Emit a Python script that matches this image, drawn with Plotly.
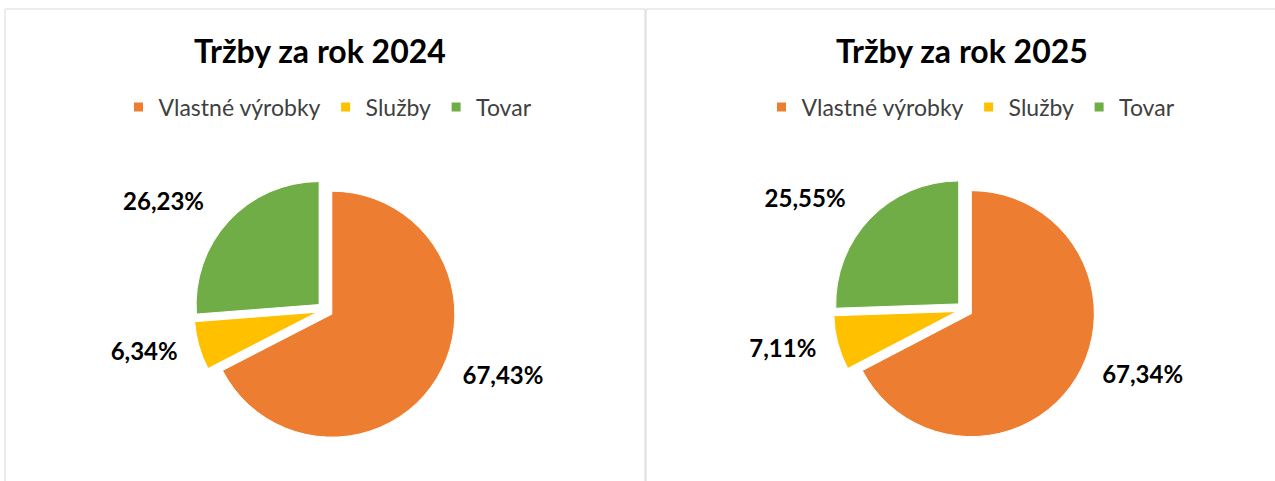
import plotly.graph_objects as go

categories = ["Vlastné výrobky", "Služby", "Tovar"]
values_2024 = [67.43, 6.34, 26.23]
values_2025 = [67.34, 7.11, 25.55]
titles = ["Tržby za rok 2024", "Tržby za rok 2025"]
colors = ["#ED7D31", "#FFC000", "#70AD47"]

W, H = 1275, 481
FONT = "Lato"


def px_x(v):
    return v / W


def px_y(v):
    return 1 - v / H


pull = 0.065
fig = go.Figure()

pies = [
    (values_2024, "legend", (325, 310)),
    (values_2025, "legend2", (964.5, 309.5)),
]
half = 131        # domain half-size of the visible pie
label_half = 148  # domain half-size of the (invisible) label ring
label_dy = -9     # label ring sits slightly higher than the pie

for vals, leg, (cx, cy) in pies:
    # invisible ring that only carries the outside percentage labels
    ly = cy + label_dy
    fig.add_trace(go.Pie(
        labels=categories,
        values=vals,
        sort=False,
        direction="clockwise",
        rotation=-3,
        marker=dict(colors=["rgba(0,0,0,0)"] * 3, line=dict(width=0)),
        textposition="outside",
        texttemplate="%{percent:.2%}",
        textfont=dict(family=FONT, size=24, color="#000000", weight="bold"),
        hoverinfo="skip",
        domain=dict(x=[px_x(cx - label_half), px_x(cx + label_half)],
                    y=[px_y(ly + label_half), px_y(ly - label_half)]),
        showlegend=False,
    ))
    fig.add_trace(go.Pie(
        labels=categories,
        values=vals,
        sort=False,
        direction="clockwise",
        rotation=0,
        pull=[pull] * 3,
        marker=dict(colors=colors, line=dict(color="white", width=1)),
        textposition="none",
        hoverinfo="label+percent",
        domain=dict(x=[px_x(cx - half), px_x(cx + half)],
                    y=[px_y(cy + half), px_y(cy - half)]),
        showlegend=False,
    ))
    # legend entries (one per category) for this chart's own legend
    for name, col in zip(categories, colors):
        fig.add_trace(go.Scatter(
            x=[None], y=[None], mode="markers", name=name,
            marker=dict(symbol="square", size=9, color=col),
            legend=leg, showlegend=True, hoverinfo="skip",
        ))

legend_common = dict(
    orientation="h",
    xanchor="center",
    yanchor="middle",
    font=dict(family=FONT, size=23, color="#404040"),
    bgcolor="rgba(0,0,0,0)",
    traceorder="normal",
    itemclick=False,
    itemdoubleclick=False,
)

fig.update_layout(
    width=W,
    height=H,
    margin=dict(l=0, r=0, t=0, b=0),
    paper_bgcolor="white",
    plot_bgcolor="white",
    separators=", ",
    xaxis=dict(visible=False),
    yaxis=dict(visible=False),
    legend=dict(x=px_x(328), y=px_y(107), **legend_common),
    legend2=dict(x=px_x(971), y=px_y(107), **legend_common),
    annotations=[
        dict(text=titles[0], x=px_x(320), y=px_y(50), xref="paper", yref="paper",
             showarrow=False, xanchor="center", yanchor="middle",
             font=dict(family=FONT, size=32, color="#000000", weight="bold")),
        dict(text=titles[1], x=px_x(962), y=px_y(50), xref="paper", yref="paper",
             showarrow=False, xanchor="center", yanchor="middle",
             font=dict(family=FONT, size=32, color="#000000", weight="bold")),
    ],
    shapes=[
        dict(type="rect", xref="paper", yref="paper",
             x0=px_x(5), x1=px_x(645), y0=-0.05, y1=px_y(9),
             line=dict(color="#D9D9D9", width=1), fillcolor="rgba(0,0,0,0)"),
        dict(type="rect", xref="paper", yref="paper",
             x0=px_x(646), x1=1.05, y0=-0.05, y1=px_y(9),
             line=dict(color="#D9D9D9", width=1), fillcolor="rgba(0,0,0,0)"),
    ],
)

fig.write_html("out.html",
               config={"displayModeBar": False},
               post_script="document.body.style.margin='0';")
